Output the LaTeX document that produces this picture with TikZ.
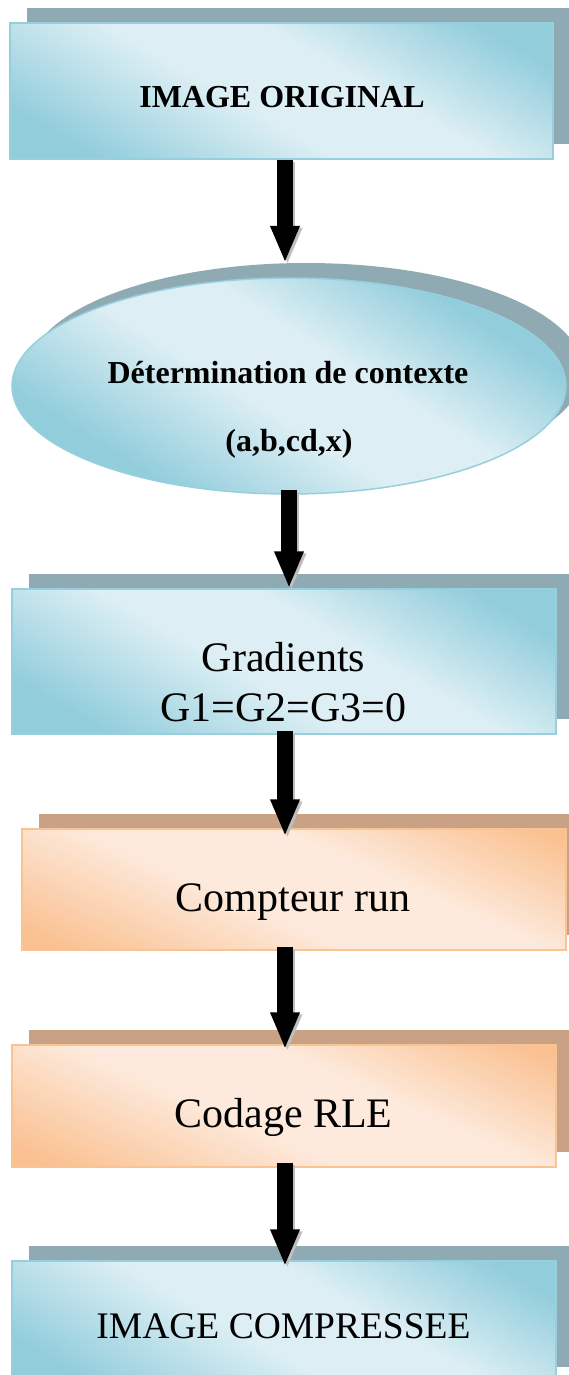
\documentclass[tikz,border=0pt]{standalone}
\usepackage{fontspec}
\setmainfont{Liberation Serif}
\usetikzlibrary{arrows.meta,calc,shapes.geometric}

% palette
\definecolor{aquaD}{HTML}{92CDDC}
\definecolor{aquaL}{HTML}{DDEFF4}
\definecolor{aquaEdge}{HTML}{96CFDE}
\definecolor{aquaShadow}{HTML}{8FAAB2}
\definecolor{peachD}{HTML}{FAC090}
\definecolor{peachL}{HTML}{FDEADC}
\definecolor{peachEdge}{HTML}{FAC393}
\definecolor{peachShadow}{HTML}{C9A184}

% band fills: dark at both ends, light middle stripe
\pgfdeclareverticalshading{aquaband}{100bp}{color(0bp)=(aquaD); color(37.5bp)=(aquaD); color(47.5bp)=(aquaL); color(54bp)=(aquaL); color(63bp)=(aquaD); color(100bp)=(aquaD)}
\pgfdeclareverticalshading{peachband}{100bp}{color(0bp)=(peachD); color(37.5bp)=(peachD); color(47.5bp)=(peachL); color(54bp)=(peachL); color(63bp)=(peachD); color(100bp)=(peachD)}

\tikzset{
  % tilted band fill, clipped to the node outline
  bandfill/.style n args={2}{path picture={
    \shade[shading=#1, transform canvas={rotate around={#2:(path picture bounding box.center)}}]
      ($(path picture bounding box.center)+(-420,-300)$) rectangle
      ($(path picture bounding box.center)+(420,300)$);
  }},
  boxbase/.style={rectangle, inner sep=0pt, minimum width=544pt},
  aquabox/.style={boxbase, draw=aquaEdge, line width=1.5pt, bandfill={aquaband}{-30}},
  peachbox/.style={boxbase, draw=peachEdge, line width=1.5pt, bandfill={peachband}{-24}},
  aquashade/.style={boxbase, fill=aquaShadow},
  peachshade/.style={boxbase, fill=peachShadow},
  bigtext/.style={anchor=base, inner sep=0pt, font=\fontsize{42}{50}\selectfont},
  boldtext/.style={anchor=base, inner sep=0pt, font=\fontsize{32}{38}\selectfont\bfseries},
  flow/.style={line width=15.5pt, -{Triangle[width=27pt,length=37pt]}},
  flowshade/.style={flow, draw=black!25, transform canvas={shift={(2.5pt,-2pt)}}},
}

\begin{document}
\begin{tikzpicture}[x=1pt,y=-1pt]
\useasboundingbox (0,0) rectangle (569,1375);
\clip (0,0) rectangle (569,1375);

% offset shadows
\node[aquashade, minimum width=543pt, minimum height=136pt] (s1) at (298.5,76) {};
\node[ellipse, inner sep=0pt, fill=aquaShadow, minimum width=554pt, minimum height=216pt] (es) at (306,371) {};
\node[aquashade, minimum height=145pt] (s3) at (301,646) {};
\node[peachshade, minimum height=121pt] (s4) at (311,874) {};
\node[peachshade, minimum height=122pt] (s5) at (301,1091) {};
\node[aquashade, minimum height=121pt] (s6) at (301,1306.5) {};

% process steps
\node[aquabox, minimum width=543pt, minimum height=136pt] (b1) at (281.5,91) {};
\node[ellipse, inner sep=0pt, draw=aquaEdge, line width=1.5pt, bandfill={aquaband}{-32},
      minimum width=554pt, minimum height=216pt] (e2) at (289,386) {};
\node[aquabox, minimum height=145pt] (b3) at (284,661.5) {};
\node[peachbox, minimum height=121pt] (b4) at (294,889.5) {};
\node[peachbox, minimum height=122pt] (b5) at (284,1106) {};
\node[aquabox, minimum height=121pt] (b6) at (284,1321.5) {};

% labels
\node[boldtext] (t1) at (282,107.5) {IMAGE ORIGINAL};
\node[boldtext] (t2a) at (288,383) {Détermination de contexte};
\node[boldtext] (t2b) at (289,451.5) {(a,b,cd,x)};
\node[bigtext] (t3a) at (283.5,671) {Gradients};
\node[bigtext] (t3b) at (283.5,721) {G1=G2=G3=0};
\node[bigtext] (t4) at (293,911.5) {Compteur run};
\node[bigtext] (t5) at (283.5,1127.5) {Codage RLE};
\node[bigtext, font=\fontsize{37.5}{45}\selectfont] (t6) at (283.5,1338) {IMAGE COMPRESSEE};

% arrow end points
\coordinate (a1s) at ($(b1.south)+(3.5,0)$);
\coordinate (a1e) at (a1s |- es.north);
\coordinate (a2s) at ($(e2.south)+(0,-5)$);
\coordinate (a2e) at (a2s |- b3.north);
\coordinate (a3s) at ($(b3.south)+(1,-4)$);
\coordinate (a3e) at ($(a3s |- b4.north)+(0,8)$);
\coordinate (a4s) at ($(b4.south)+(-9,-4)$);
\coordinate (a4e) at ($(a4s |- b5.north)+(0,5)$);
\coordinate (a5s) at ($(b5.south)+(1,-5)$);
\coordinate (a5e) at ($(a5s |- b6.north)+(0,6)$);

% connectors: soft grey copy first, black arrow on top
\foreach \s/\e in {a1s/a1e,a2s/a2e,a3s/a3e,a4s/a4e,a5s/a5e}{
  \draw[flowshade] (\s) -- (\e);
  \draw[flow] (\s) -- (\e);
}
\end{tikzpicture}
\end{document}
